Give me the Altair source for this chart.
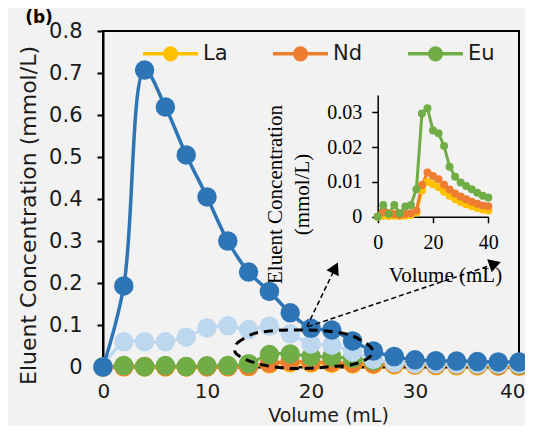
import altair as alt
import pandas as pd

# ---------------- data ----------------
volume = [0, 2, 4, 6, 8, 10, 12, 14, 16, 18, 20, 22, 24, 26, 28, 30, 32, 34, 36, 38, 40]
la = [0, 0.0003, 0.0002, 0.0003, 0.0002, 0.0003, 0.0005, 0.0012, 0.0075, 0.0100, 0.0093,
      0.0085, 0.0072, 0.0060, 0.0050, 0.0042, 0.0036, 0.0030, 0.0025, 0.0021, 0.0018]
nd = [0, 0.0012, 0.0010, 0.0008, 0.0005, 0.0008, 0.0010, 0.0018, 0.0091, 0.0127, 0.0117,
      0.0108, 0.0092, 0.0078, 0.0067, 0.0058, 0.0050, 0.0043, 0.0037, 0.0032, 0.0030]
eu = [0, 0.0034, 0.0008, 0.0034, 0.0010, 0.0029, 0.0034, 0.0079, 0.0297, 0.0312, 0.0248,
      0.0240, 0.0203, 0.0144, 0.0115, 0.0098, 0.0088, 0.0079, 0.0069, 0.0060, 0.0055]
dark_series = [0, 0.193, 0.707, 0.619, 0.505, 0.405, 0.300, 0.226, 0.180, 0.129, 0.092,
               0.088, 0.062, 0.038, 0.025, 0.017, 0.015, 0.014, 0.013, 0.012, 0.012]
light_series = [0, 0.060, 0.060, 0.060, 0.071, 0.093, 0.098, 0.089, 0.097, 0.079, 0.055,
                0.052, 0.036, 0.018, 0.010, 0.008, 0.008, 0.007, 0.007, 0.007, 0.007]

elements = ["La", "Nd", "Eu"]
element_colors = ["#ffc000", "#ed7d31", "#70ad47"]
dark_color = "#2e75b6"
light_color = "#bdd7ee"
panel_label = ["(b)"]

# dashed loop annotation (data space)
loop_volume = [12.86, 14.30, 16.06, 17.98, 19.59, 21.51, 23.75, 25.03, 25.84, 25.93, 25.36,
               24.07, 21.83, 19.90, 17.66, 15.41, 13.49, 12.69, 12.86]
loop_conc = [0.0564, 0.0779, 0.0857, 0.0881, 0.0881, 0.0857, 0.0762, 0.0602, 0.0445, 0.0326,
             0.0190, 0.0064, 0.0007, -0.0031, -0.0031, 0.0048, 0.0207, 0.0364, 0.0564]
# arrows (data space): start, head centre, head angle
arrow_id = ["a1", "a2"]
arrow_x0 = [19.6, 19.7]
arrow_y0 = [0.096, 0.096]
arrow_x1 = [22.33, 37.70]
arrow_y1 = [0.236, 0.2455]
arrow_angle = [26, 71]

# ---------------- tables ----------------
rows = []
for rank, (name, vals) in enumerate(zip(elements, [la, nd, eu])):
    for v, c in zip(volume, vals):
        rows.append({"volume": v, "element": name, "conc": c, "rank": rank})
elem_df = pd.DataFrame(rows)
blue_df = pd.DataFrame({"volume": volume, "dark": dark_series, "light": light_series})
loop_df = pd.DataFrame({"lx": loop_volume, "ly": loop_conc, "idx": list(range(len(loop_volume)))})
arr_rows = []
for i in range(len(arrow_id)):
    arr_rows.append({"arrow": arrow_id[i], "ax": arrow_x0[i], "ay": arrow_y0[i], "k": 0})
    arr_rows.append({"arrow": arrow_id[i], "ax": arrow_x1[i], "ay": arrow_y1[i], "k": 1})
arrow_df = pd.DataFrame(arr_rows)
head_df = pd.DataFrame({"hx": arrow_x1, "hy": arrow_y1, "angle": arrow_angle})
label_df = pd.DataFrame({"label": panel_label})

# ---------------- styles ----------------
SANS = "DejaVu Sans"
SERIF = "Liberation Serif"
TXT = "#1a1a1a"

xs_main = alt.Scale(domain=[0, 40], nice=False, zero=False)
ys_main = alt.Scale(domain=[0, 0.8], nice=False)

main_x_axis = alt.Axis(values=[0, 10, 20, 30, 40], title="Volume (mL)", grid=False,
                       ticks=False, tickSize=0, domainColor="black", domainWidth=2,
                       labelFont=SANS, labelFontSize=20, labelColor=TXT, labelPadding=24,
                       labelBaseline="middle", labelFlush=True, labelFlushOffset=6,
                       titleFont=SANS, titleFontSize=19, titleFontWeight="normal",
                       titleColor=TXT, titleX=225, titleY=54, titleBaseline="alphabetic",
                       titleAlign="center")
main_y_axis = alt.Axis(values=[0, 0.1, 0.2, 0.3, 0.4, 0.5, 0.6, 0.7, 0.8], format="~g",
                       grid=False, tickSize=6, tickColor="black", tickWidth=2,
                       domainColor="black", domainWidth=2,
                       labelFont=SANS, labelFontSize=21, labelColor=TXT, labelPadding=15,
                       labelBaseline="middle",
                       title="Eluent Concentration (mmol/L)", titleFont=SANS,
                       titleFontSize=22, titleFontWeight="normal", titleColor=TXT,
                       titleX=-74.7, titleY=184, titleAngle=270, titleBaseline="middle",
                       titleAlign="center")

LEGEND_PATH = ("M-1,0H1"
               "M-0.07,0A0.07,0.07 0 1,0 0.07,0A0.07,0.07 0 1,0 -0.07,0"
               "M-0.14,0A0.14,0.14 0 1,0 0.14,0A0.14,0.14 0 1,0 -0.14,0"
               "M-0.21,0A0.21,0.21 0 1,0 0.21,0A0.21,0.21 0 1,0 -0.21,0")

color_scale = alt.Scale(domain=elements, range=element_colors)
legend = alt.Legend(orient="none", legendX=38, legendY=-7, direction="horizontal",
                    title=None, symbolType=LEGEND_PATH, symbolSize=3025,
                    symbolStrokeWidth=3.5, symbolOpacity=1, labelFont=SANS,
                    labelFontSize=21, labelColor=TXT, labelOffset=3, columnPadding=38,
                    padding=0)

# ---------------- main plot ----------------
def mx(field):
    return alt.X(field, scale=xs_main, axis=main_x_axis)


def my(field):
    return alt.Y(field, scale=ys_main, axis=main_y_axis)


elem_lines = alt.Chart(elem_df).mark_line(interpolate="catmull-rom", strokeWidth=3).encode(
    x=mx("volume:Q"), y=my("conc:Q"),
    color=alt.Color("element:N", scale=color_scale, legend=legend),
)
elem_points = alt.Chart(elem_df).mark_point(filled=True, size=380, opacity=1, strokeWidth=0).encode(
    x=mx("volume:Q"), y=my("conc:Q"),
    color=alt.Color("element:N", scale=color_scale, legend=None),
    order=alt.Order("rank:Q"),
)
light_line = alt.Chart(blue_df).mark_line(interpolate="catmull-rom", strokeWidth=3,
                                          color=light_color).encode(
    x=mx("volume:Q"), y=my("light:Q"))
light_points = alt.Chart(blue_df).mark_point(filled=True, size=380, opacity=1, strokeWidth=0,
                                             color=light_color).encode(
    x=mx("volume:Q"), y=my("light:Q"))
dark_line = alt.Chart(blue_df).mark_line(interpolate="catmull-rom", strokeWidth=3.5,
                                         color=dark_color).encode(
    x=mx("volume:Q"), y=my("dark:Q"))
dark_points = alt.Chart(blue_df).mark_point(filled=True, size=380, opacity=1, strokeWidth=0,
                                            color=dark_color).encode(
    x=mx("volume:Q"), y=my("dark:Q"))

loop = alt.Chart(loop_df).mark_line(interpolate="catmull-rom", strokeWidth=3, color="black",
                                    strokeDash=[9, 6]).encode(
    x=mx("lx:Q"), y=my("ly:Q"), order="idx:Q")
arrows = alt.Chart(arrow_df).mark_line(strokeWidth=1.5, color="black",
                                       strokeDash=[5, 3]).encode(
    x=mx("ax:Q"), y=my("ay:Q"), detail="arrow:N", order="k:Q")
heads = alt.Chart(head_df).mark_point(shape="triangle-up", filled=True, size=190, opacity=1,
                                      color="black", strokeWidth=0).encode(
    x=mx("hx:Q"), y=my("hy:Q"),
    angle=alt.Angle("angle:Q", scale=None))
panel = alt.Chart(label_df).mark_text(font=SANS, fontSize=17, fontWeight="bold",
                                      color="black", align="center",
                                      baseline="alphabetic").encode(
    text="label:N", x=alt.value(-64), y=alt.value(-8))

main = alt.layer(elem_lines, elem_points, light_line, light_points, dark_line, dark_points,
                 loop, arrows, heads, panel)

# ---------------- inset ----------------
xs_in = alt.Scale(domain=[0, 40], range=[274.7, 385.3], nice=False, zero=False)
ys_in = alt.Scale(domain=[0, 0.035], range=[185.7, 64], nice=False)

inset_x_axis = alt.Axis(orient="bottom", offset=-150.3, values=[0, 20, 40], grid=False,
                        tickSize=6, tickColor="black", tickWidth=1.5,
                        domainColor="black", domainWidth=1.5,
                        labelFont=SERIF, labelFontSize=20, labelColor="black",
                        labelPadding=20, labelBaseline="middle", labelFlush=False,
                        title="Volume (mL)", titleFont=SERIF, titleFontSize=21,
                        titleFontWeight="normal", titleColor="black", titleX=342, titleY=65,
                        titleBaseline="alphabetic", titleAlign="center")
inset_y_axis = alt.Axis(orient="left", offset=-274.7, values=[0, 0.01, 0.02, 0.03],
                        format="~g", grid=False, tickSize=6, tickColor="black",
                        tickWidth=1.5, domainColor="black", domainWidth=1.5,
                        labelFont=SERIF, labelFontSize=20, labelColor="black",
                        labelPadding=10, labelBaseline="middle",
                        title=["Eluent Concentration", "(mmol/L)"], titleFont=SERIF,
                        titleFontSize=21, titleFontWeight="normal", titleColor="black",
                        titleLineHeight=27, titleX=-102.7, titleY=163, titleAngle=270,
                        titleBaseline="middle", titleAlign="center")

ix = alt.X("volume:Q", scale=xs_in, axis=inset_x_axis)
iy = alt.Y("conc:Q", scale=ys_in, axis=inset_y_axis)
inset_lines = alt.Chart(elem_df).mark_line(strokeWidth=3).encode(
    x=ix, y=iy,
    color=alt.Color("element:N", scale=color_scale, legend=None),
)
inset_points = alt.Chart(elem_df).mark_point(filled=True, size=64, opacity=1,
                                             strokeWidth=0).encode(
    x=ix, y=iy,
    color=alt.Color("element:N", scale=color_scale, legend=None),
    order=alt.Order("rank:Q"),
)
inset = alt.layer(inset_lines, inset_points)

chart = alt.layer(main, inset).resolve_scale(x="independent", y="independent").properties(
    width=416, height=336, autosize="none",
    padding={"left": 95, "top": 23, "right": 6, "bottom": 59},
    background="#f2f2f2",
).configure_view(stroke="black", strokeWidth=2)

chart.save("out.html", embed_options={"renderer": "svg", "actions": False})
